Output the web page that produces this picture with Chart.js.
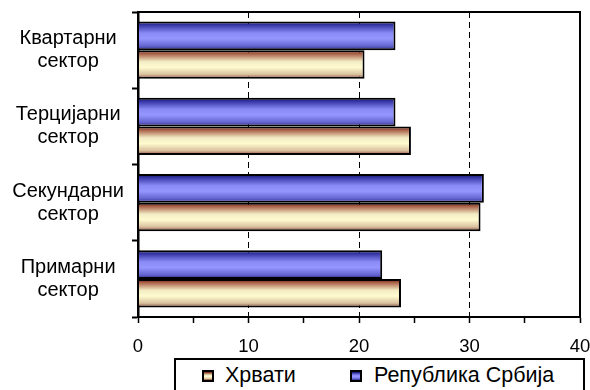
<!DOCTYPE html>
<html>
<head>
<meta charset="utf-8">
<script src="https://cdn.jsdelivr.net/npm/chart.js@4/dist/chart.umd.min.js"></script>
<style>
  html, body { margin: 0; padding: 0; background: #fff; }
  #wrap { position: relative; width: 590px; height: 390px; overflow: hidden; }
  canvas { position: absolute; left: 0; top: 0; }
  #legend { position: absolute; left: 174px; top: 358px; width: 407px; height: 40px;
            border: 2px solid #000; background: #fff; font-family: "Liberation Sans", Arial, sans-serif;
            font-size: 21.5px; color: #000; }
  .sw { position: absolute; width: 8px; height: 8px; border: 2px solid #000; }
  .lt { position: absolute; line-height: 21px; white-space: nowrap; }
</style>
</head>
<body>
<div id="wrap">
  <canvas id="c" width="590" height="390"></canvas>
  <div id="legend"></div>
</div>
<script>
const categories = [['Квартарни', 'сектор'], ['Терцијарни', 'сектор'], ['Секундарни', 'сектор'], ['Примарни', 'сектор']];
const seriesNames = ['Република Србија', 'Хрвати'];
const serbiaValues = [23.3, 23.3, 31.3, 22.1];
const croatsValues = [20.5, 24.7, 31.0, 23.8];
const xTickLabels = [0, 10, 20, 30, 40];

const blueStops = [[0, '#101058'], [0.12, '#3434a4'], [0.4, '#8a8af6'], [0.6, '#9696ff'], [0.85, '#6666d2'], [1, '#2c2c86']];
const yellowStops = [[0, '#641006'], [0.12, '#a65c44'], [0.4, '#f2ecc4'], [0.6, '#fffbcf'], [0.85, '#d8c09e'], [1, '#884232']];

const gradientPlugin = {
  id: 'grad',
  beforeDatasetsDraw(chart) {
    const ctx = chart.ctx;
    chart.data.datasets.forEach((ds, di) => {
      const meta = chart.getDatasetMeta(di);
      const stops = di === 0 ? blueStops : yellowStops;
      meta.data.forEach(el => {
        const top = el.y - el.height / 2, bot = el.y + el.height / 2;
        const g = ctx.createLinearGradient(0, top, 0, bot);
        stops.forEach(s => g.addColorStop(s[0], s[1]));
        el.options = Object.assign({}, el.options, { backgroundColor: g });
      });
    });
  },
  afterDraw(chart) {
    const a = chart.chartArea, ctx = chart.ctx;
    ctx.save();
    ctx.strokeStyle = '#000';
    ctx.lineWidth = 2;
    ctx.strokeRect(a.left, a.top, a.right - a.left, a.bottom - a.top);
    ctx.restore();
  }
};

new Chart(document.getElementById('c'), {
  type: 'bar',
  data: {
    labels: categories,
    datasets: [
      { label: seriesNames[0], data: serbiaValues, backgroundColor: '#9696ff', borderColor: '#000', borderWidth: 2 },
      { label: seriesNames[1], data: croatsValues, backgroundColor: '#fffbcf', borderColor: '#000', borderWidth: 2 }
    ]
  },
  options: {
    indexAxis: 'y',
    responsive: false,
    animation: false,
    devicePixelRatio: 1,
    categoryPercentage: 0.75,
    barPercentage: 1.0,
    layout: { padding: { left: 0, right: 10, top: 12, bottom: 32 } },
    plugins: { legend: { display: false }, tooltip: { enabled: false } },
    scales: {
      x: {
        min: 0, max: 40,
        afterFit(s) { s.height = 41; s.paddingLeft = 0; s.paddingRight = 0; },
        ticks: {
          stepSize: 5,
          autoSkip: false,
          maxRotation: 0,
          color: '#000',
          padding: 13,
          font: { family: 'Liberation Sans', size: 18.5 },
          callback: (v) => xTickLabels.includes(v) ? String(v) : ''
        },
        grid: {
          drawOnChartArea: true,
          color: (c) => (c.tick && c.tick.value > 0 && c.tick.value < 40 && c.tick.value % 10 === 0) ? '#000' : 'rgba(0,0,0,0)',
          lineWidth: 1,
          tickColor: '#000',
          tickLength: 6,
          tickWidth: 1.5,
          tickBorderDash: []
        },
        border: { display: true, color: '#000', width: 2, dash: [6, 4] }
      },
      y: {
        afterFit(s) { s.width = 138; s.paddingTop = 0; s.paddingBottom = 0; },
        ticks: {
          color: '#000',
          crossAlign: 'center',
          padding: 8,
          font: { family: 'Liberation Sans', size: 20, lineHeight: 1.15 }
        },
        grid: {
          offset: true,
          drawOnChartArea: false,
          tickColor: '#000',
          tickLength: 6,
          tickWidth: 2
        },
        border: { display: true, color: '#000', width: 2.5 }
      }
    }
  },
  plugins: [gradientPlugin]
});

// HTML legend (order as in reference: Хрвати, then Република Србија)
const legend = document.getElementById('legend');
const legendItems = [
  { name: seriesNames[1], stops: yellowStops, box: 26, text: 49 },
  { name: seriesNames[0], stops: blueStops, box: 174, text: 198 }
];
legendItems.forEach(it => {
  const sw = document.createElement('div');
  sw.className = 'sw';
  sw.style.left = it.box + 'px';
  sw.style.top = '10px';
  sw.style.background = 'linear-gradient(to bottom, ' + it.stops.map(s => s[1] + ' ' + (s[0] * 100) + '%').join(', ') + ')';
  legend.appendChild(sw);
  const t = document.createElement('span');
  t.className = 'lt';
  t.style.left = it.text + 'px';
  t.style.top = '4.5px';
  t.textContent = it.name;
  legend.appendChild(t);
});
</script>
</body>
</html>
